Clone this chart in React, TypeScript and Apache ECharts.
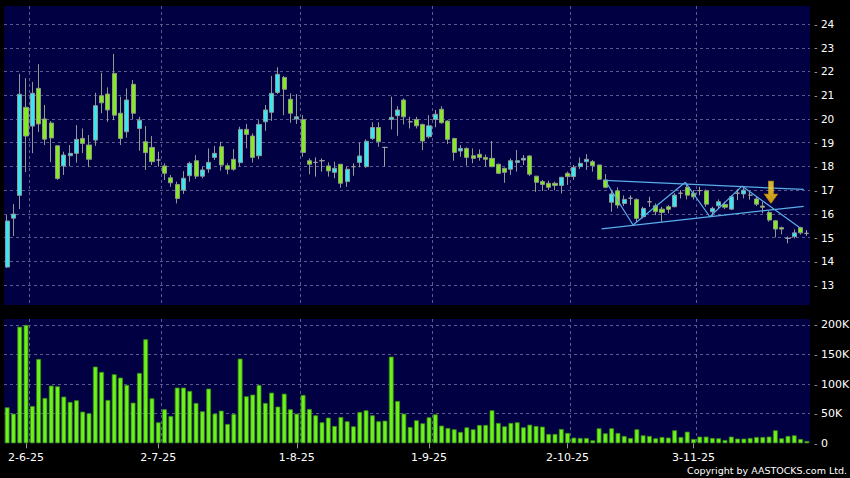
import React, { useEffect, useRef } from "react";
import * as echarts from "echarts";

const dates = [
  "28-5-25", "29-5-25", "30-5-25",
  "2-6-25", "3-6-25", "4-6-25", "5-6-25", "6-6-25", "9-6-25", "10-6-25", "11-6-25", "12-6-25", "13-6-25", "16-6-25", "17-6-25", "18-6-25", "19-6-25", "20-6-25", "23-6-25", "24-6-25", "25-6-25", "26-6-25", "27-6-25", "30-6-25",
  "2-7-25", "3-7-25", "4-7-25", "7-7-25", "8-7-25", "9-7-25", "10-7-25", "11-7-25", "14-7-25", "15-7-25", "16-7-25", "17-7-25", "18-7-25", "21-7-25", "22-7-25", "23-7-25", "24-7-25", "25-7-25", "28-7-25", "29-7-25", "30-7-25", "31-7-25",
  "1-8-25", "4-8-25", "5-8-25", "6-8-25", "7-8-25", "8-8-25", "11-8-25", "12-8-25", "13-8-25", "14-8-25", "15-8-25", "18-8-25", "19-8-25", "20-8-25", "21-8-25", "22-8-25", "25-8-25", "26-8-25", "27-8-25", "28-8-25", "29-8-25",
  "1-9-25", "2-9-25", "3-9-25", "4-9-25", "5-9-25", "8-9-25", "9-9-25", "10-9-25", "11-9-25", "12-9-25", "15-9-25", "16-9-25", "17-9-25", "18-9-25", "19-9-25", "22-9-25", "23-9-25", "24-9-25", "25-9-25", "26-9-25", "29-9-25", "30-9-25",
  "2-10-25", "3-10-25", "6-10-25", "8-10-25", "9-10-25", "10-10-25", "13-10-25", "14-10-25", "15-10-25", "16-10-25", "17-10-25", "20-10-25", "21-10-25", "22-10-25", "23-10-25", "24-10-25", "27-10-25", "28-10-25", "30-10-25", "31-10-25",
  "3-11-25", "4-11-25", "5-11-25", "6-11-25", "7-11-25", "10-11-25", "11-11-25", "12-11-25", "13-11-25", "14-11-25", "17-11-25", "18-11-25", "19-11-25", "20-11-25", "21-11-25", "24-11-25", "25-11-25", "26-11-25", "27-11-25",
];

const tickLabels = ["2-6-25", "2-7-25", "1-8-25", "1-9-25", "2-10-25", "3-11-25"];

const openPrices = [
  13.76, 15.82, 16.78, 20.49, 19.70, 21.29, 20.00, 19.83, 18.87, 18.02,
  18.45, 18.55, 19.18, 18.90, 19.11, 20.98, 21.05, 21.92, 20.24, 19.46,
  21.46, 19.60, 19.04, 18.80, 18.27, 18.02, 17.52, 17.24, 17.00, 17.61,
  18.24, 17.59, 17.89, 18.38, 18.83, 18.03, 18.30, 18.16, 19.56, 19.28,
  18.45, 19.88, 20.28, 21.12, 21.75, 20.83, 20.00, 19.98, 18.24, 18.17,
  18.24, 18.02, 17.75, 18.09, 17.36, 17.99, 18.17, 17.99, 19.18, 19.64,
  18.80, 19.98, 20.14, 20.80, 19.88, 19.98, 19.77, 19.25, 19.98, 20.41,
  19.91, 19.18, 18.65, 18.76, 18.45, 18.51, 18.38, 18.34, 18.09, 17.92,
  17.88, 18.17, 18.27, 18.44, 17.59, 17.36, 17.29, 17.29, 17.20, 17.71,
  17.57, 17.99, 18.20, 18.20, 18.06, 17.43, 16.49, 16.97, 16.44, 16.66,
  16.61, 15.88, 16.51, 16.34, 16.20, 16.30, 16.30, 16.87, 17.12, 16.87,
  16.98, 16.97, 16.09, 16.34, 16.40, 16.20, 16.87, 16.84, 16.79, 16.63,
  16.33, 16.06, 15.71, 15.42, 14.97, 15.04, 15.42, 15.18,
];

const closePrices = [
  15.70, 15.99, 21.04, 19.28, 21.08, 19.79, 19.15, 19.20, 17.49, 18.48,
  18.55, 19.14, 18.97, 18.30, 20.56, 20.68, 20.38, 20.16, 19.18, 20.80,
  20.24, 19.95, 18.58, 18.20, 18.27, 17.71, 17.31, 16.65, 17.50, 18.13,
  17.59, 17.85, 18.17, 18.55, 18.06, 17.88, 17.88, 19.56, 19.35, 18.38,
  19.77, 20.38, 21.08, 21.88, 21.25, 20.24, 20.09, 18.59, 18.09, 18.17,
  18.24, 17.81, 17.92, 17.29, 17.88, 17.99, 18.44, 19.06, 19.64, 19.04,
  18.80, 20.07, 20.38, 20.09, 19.88, 19.71, 19.07, 19.71, 20.20, 19.84,
  19.14, 18.59, 18.76, 18.38, 18.34, 18.38, 18.30, 17.99, 17.71, 17.75,
  18.24, 18.24, 18.34, 17.67, 17.33, 17.24, 17.12, 17.20, 17.54, 17.57,
  17.96, 18.13, 18.30, 18.03, 17.46, 17.12, 16.84, 16.37, 16.61, 16.66,
  15.81, 16.23, 16.51, 16.09, 16.06, 16.19, 16.79, 16.87, 16.79, 16.72,
  16.98, 16.41, 16.23, 16.51, 16.28, 16.72, 16.87, 17.00, 16.79, 16.41,
  16.28, 15.74, 15.36, 15.36, 14.97, 15.20, 15.20, 15.18,
];

const lowPrices = [
  13.72, 15.07, 16.20, 17.76, 18.56, 19.45, 18.90, 18.18, 17.43, 17.64,
  18.00, 18.16, 18.56, 17.97, 18.87, 20.24, 19.88, 19.95, 18.90, 19.21,
  20.00, 18.66, 17.85, 18.06, 17.99, 17.43, 17.14, 16.44, 16.84, 17.36,
  17.47, 17.50, 17.73, 18.27, 17.82, 17.67, 17.82, 17.99, 18.76, 18.16,
  18.30, 19.50, 19.92, 21.05, 20.16, 19.84, 19.79, 18.41, 17.67, 17.57,
  17.78, 17.57, 17.50, 17.10, 17.14, 17.61, 17.96, 17.94, 19.11, 18.83,
  17.99, 19.56, 19.29, 19.77, 19.60, 19.60, 18.69, 19.18, 19.65, 19.80,
  18.94, 18.24, 18.41, 18.03, 18.13, 18.24, 17.99, 17.97, 17.68, 17.31,
  17.64, 17.78, 18.06, 17.59, 16.93, 16.97, 17.00, 17.00, 16.86, 17.22,
  17.43, 17.89, 17.85, 17.78, 17.43, 17.08, 16.09, 16.23, 16.33, 16.37,
  15.63, 15.81, 16.30, 15.95, 15.67, 16.02, 16.28, 16.65, 16.61, 16.60,
  16.79, 16.30, 15.91, 16.23, 16.20, 16.16, 16.58, 16.65, 16.60, 16.33,
  16.02, 15.67, 15.01, 15.14, 14.76, 14.97, 15.13, 15.08,
];

const highPrices = [
  15.95, 16.41, 21.90, 21.72, 21.56, 22.31, 20.59, 19.91, 18.90, 18.62,
  18.90, 19.74, 19.60, 19.32, 21.10, 21.95, 21.33, 22.74, 20.94, 21.29,
  21.64, 20.09, 19.70, 19.28, 18.62, 18.13, 17.64, 17.36, 17.80, 18.20,
  18.48, 17.99, 18.76, 18.86, 19.04, 18.13, 18.73, 19.67, 19.79, 19.39,
  19.95, 20.59, 21.81, 22.18, 21.81, 21.08, 21.05, 20.16, 18.34, 18.38,
  18.34, 18.17, 18.20, 18.09, 17.99, 18.13, 19.00, 19.14, 19.86, 19.86,
  18.83, 20.94, 20.54, 20.87, 20.09, 20.09, 19.80, 20.16, 20.38, 20.54,
  19.95, 19.20, 18.90, 18.80, 18.76, 18.72, 18.50, 19.07, 18.12, 17.95,
  18.34, 18.69, 18.48, 18.48, 17.60, 17.43, 17.40, 17.36, 17.56, 17.78,
  18.06, 18.38, 18.52, 18.27, 18.06, 17.68, 17.00, 17.12, 16.78, 16.78,
  16.65, 16.30, 16.72, 16.44, 16.30, 16.37, 16.87, 17.00, 17.22, 17.00,
  17.14, 17.03, 16.30, 16.61, 16.51, 16.79, 17.05, 17.14, 16.93, 16.72,
  16.51, 16.12, 15.74, 15.46, 15.04, 15.35, 15.46, 15.32,
];

// volume in thousands of shares
const volumesK = [
  60.8, 50.1, 197, 200, 63, 142.5, 76.6, 97.5, 96.3, 78.9,
  69.9, 72.7, 53.5, 50.7, 129.6, 120.6, 73.2, 116.6, 111, 98.6,
  68.7, 118.9, 175.8, 76, 35.5, 57.5, 46.2, 94.1, 94.1, 88.5,
  68.2, 54.1, 92.4, 50.1, 55.2, 32.7, 49.6, 143.1, 79.4, 82.3,
  98.6, 68.2, 85.6, 62, 83.9, 57.5, 50.1, 81.7, 58, 47.3,
  35.5, 43.4, 29.3, 44.5, 37.2, 28.7, 53, 55.8, 47.3, 37.2,
  38.3, 146.5, 71.5, 50.1, 27.6, 38.9, 33.8, 43.9, 49, 29.9,
  25.9, 23.7, 19.2, 27, 23.7, 31, 31, 55.8, 34.4, 28.7,
  34.4, 35.5, 27, 31.5, 29.3, 28.2, 15.8, 15.8, 24.2, 17.5,
  9.6, 9, 9, 5.1, 25.4, 16.9, 25.4, 17.5, 12.4, 9,
  23.7, 13.5, 12.4, 8.5, 10.7, 9.6, 22, 10.7, 19.7, 7.3,
  11.3, 11.3, 9, 8.5, 5.6, 11.3, 7.9, 7.9, 9, 10.7,
  10.7, 11.3, 22, 8.5, 12.4, 13.5, 7.3, 3.9,
];

// drawn trend lines: [bar index, price]
const channelUpper = [[94.9, 17.41], [126.5, 17.03]];
const channelLower = [[94.4, 15.37], [126.5, 16.32]];
const zigzagLine = [[95.2, 17.31], [99.4, 15.53], [107.7, 17.33], [111.6, 15.88], [116.7, 17.17], [125.9, 15.42]];
const arrowPoint = [[121.3, 16.91]];

const priceTicks = { min: 12.16, max: 24.76 };
const volumeTicks = { min: 0, max: 210, interval: 50 };

const FONT = '"DejaVu Sans", Verdana, sans-serif';
const GRID_LINE = { color: "#5a5a8e", width: 1, type: [3, 3] as any };

export default function App() {
  const ref = useRef<HTMLDivElement>(null);

  useEffect(() => {
    if (!ref.current) return;
    const chart = echarts.init(ref.current, undefined, { renderer: "svg" });

    const candleData = dates.map((_, i) => [openPrices[i], closePrices[i], lowPrices[i], highPrices[i]]);
    const isLabel = (_i: number, v: string) => tickLabels.includes(v);
    const isSplit = (i: number) => i > 0 && tickLabels.includes(dates[i - 1]);

    const rich = {
      d: { color: "#9a9a9a", fontSize: 10, fontFamily: FONT },
      v: { color: "#ffffff", fontSize: 10.5, fontFamily: FONT },
    };

    const option: any = {
      animation: false,
      backgroundColor: "#000000",
      grid: [
        { left: 4, right: 40, top: 6, bottom: 173, show: true, backgroundColor: "#000042", borderWidth: 0, outerBoundsMode: "none", containLabel: false },
        { left: 4, right: 40, top: 319, bottom: 34.7, show: true, backgroundColor: "#000042", borderWidth: 0, outerBoundsMode: "none", containLabel: false },
      ],
      xAxis: [
        {
          type: "category", gridIndex: 0, data: dates, boundaryGap: true,
          axisLine: { show: false }, axisTick: { show: false }, axisLabel: { show: false },
          splitLine: { show: true, interval: isSplit, showMaxLine: false, lineStyle: GRID_LINE },
        },
        {
          type: "category", gridIndex: 1, data: dates, boundaryGap: true,
          axisLine: { show: false },
          axisTick: { show: true, alignWithLabel: true, interval: isLabel, length: 5, lineStyle: { color: "#9a9a9a" } },
          axisLabel: { interval: isLabel, color: "#ffffff", fontSize: 11, fontFamily: FONT, margin: 9 },
          splitLine: { show: true, interval: isSplit, showMaxLine: false, lineStyle: GRID_LINE },
        },
        { type: "value", gridIndex: 0, min: -0.5, max: dates.length - 0.5, show: false },
      ],
      yAxis: [
        {
          type: "value", gridIndex: 0, position: "right",
          min: priceTicks.min, max: priceTicks.max, splitNumber: 12, minInterval: 1, maxInterval: 1,
          axisLine: { show: false }, axisTick: { show: false },
          axisLabel: {
            showMinLabel: false, showMaxLabel: false, margin: 4,
            formatter: (v: number) => `{d|-} {v|${v}}`, rich,
          },
          splitLine: { show: true, showMinLine: false, showMaxLine: false, lineStyle: GRID_LINE },
        },
        {
          type: "value", gridIndex: 1, position: "right",
          min: volumeTicks.min, max: volumeTicks.max, interval: volumeTicks.interval,
          axisLine: { show: false }, axisTick: { show: false },
          axisLabel: {
            showMaxLabel: false, margin: 4,
            formatter: (v: number) => `{d|-} {v|${v === 0 ? "0" : v + "K"}}`,
            rich: { d: rich.d, v: { ...rich.v, fontSize: 11 } },
          },
          splitLine: { show: true, showMinLine: false, showMaxLine: false, lineStyle: GRID_LINE },
        },
      ],
      series: [
        {
          type: "candlestick", xAxisIndex: 0, yAxisIndex: 0, data: candleData, barWidth: 4.6,
          itemStyle: {
            color: "#36e8f4", color0: "#84ea22",
            borderColor: "#8f9a98", borderColor0: "#8f9a88", borderColorDoji: "#a0a0a0", borderWidth: 1,
          },
        },
        {
          type: "bar", xAxisIndex: 1, yAxisIndex: 1, data: volumesK, barWidth: 4.8,
          itemStyle: { color: "#6cf21a", borderColor: "#3a8a16", borderWidth: 0.8 },
        },
        {
          type: "line", xAxisIndex: 2, yAxisIndex: 0, data: channelUpper, symbol: "none",
          lineStyle: { color: "#5aaeea", width: 1.3 },
        },
        {
          type: "line", xAxisIndex: 2, yAxisIndex: 0, data: channelLower, symbol: "none",
          lineStyle: { color: "#5aaeea", width: 1.3 },
        },
        {
          type: "line", xAxisIndex: 2, yAxisIndex: 0, data: zigzagLine, symbol: "none",
          lineStyle: { color: "#5aaeea", width: 1.2 },
        },
        {
          type: "scatter", xAxisIndex: 2, yAxisIndex: 0, data: arrowPoint,
          symbol: "path://M4,0L9,0L9,13L13,13L6.5,22L0,13L4,13Z", symbolSize: [13, 22],
          itemStyle: {
            color: new echarts.graphic.LinearGradient(0, 0, 0, 1, [
              { offset: 0, color: "#ffe84a" },
              { offset: 0.6, color: "#ffd21a" },
              { offset: 1, color: "#ffbe00" },
            ]),
            borderColor: "#e09a00", borderWidth: 0.8,
          },
          z: 10,
        },
      ],
      graphic: [
        {
          type: "text", right: 3, top: 465,
          style: { text: "Copyright by AASTOCKS.com Ltd.", fill: "#ffffff", font: `9.5px ${FONT}` },
        },
      ],
    };

    chart.setOption(option);
    return () => chart.dispose();
  }, []);

  return <div ref={ref} style={{ position: "fixed", left: 0, top: 0, width: 850, height: 478 }} />;
}
